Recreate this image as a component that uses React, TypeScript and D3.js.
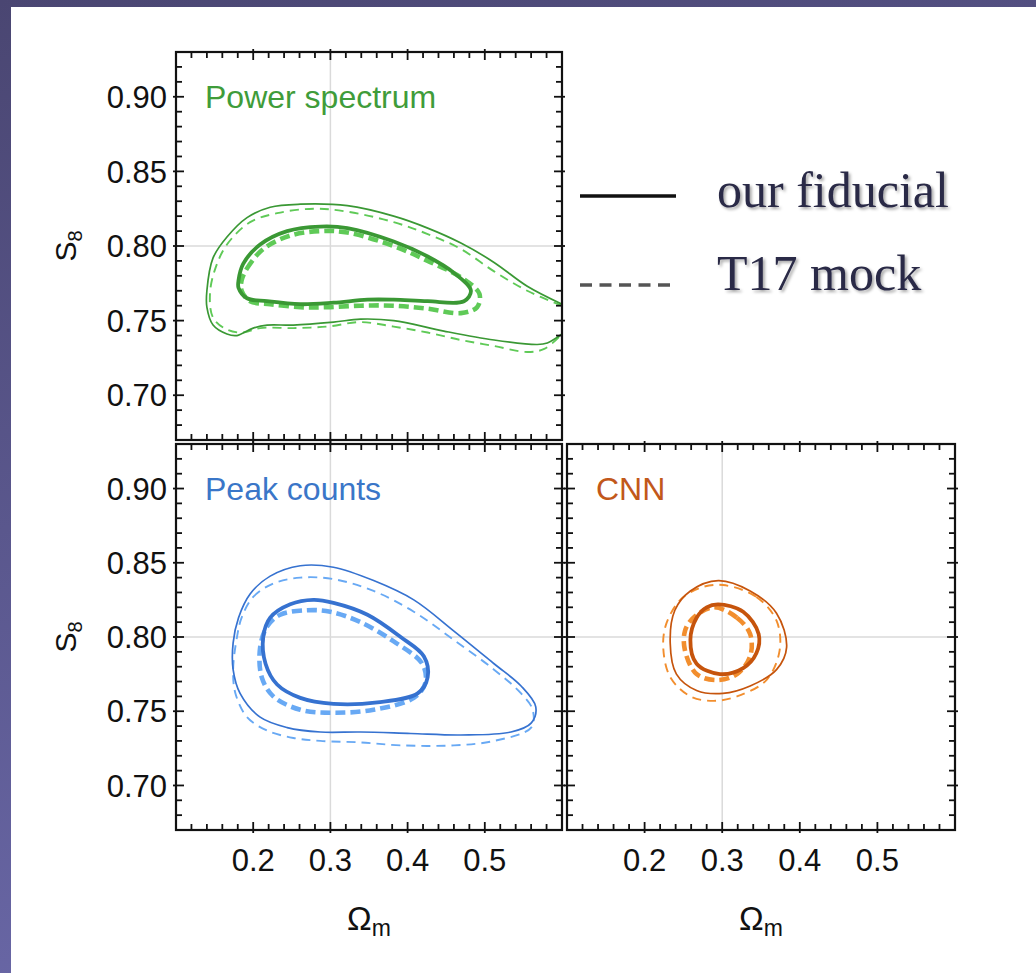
import React, { useEffect, useRef } from 'react';
import * as d3 from 'd3';

type Pt = [number, number];

// axis settings
const omegaDomain: [number, number] = [0.1, 0.6];
const s8Domain: [number, number] = [0.67, 0.93];
const xMajorTicks = [0.2, 0.3, 0.4, 0.5];
const yMajorTicks = [0.7, 0.75, 0.8, 0.85, 0.9];
const fiducial: Pt = [0.3, 0.8];

// Power spectrum contours (Omega_m, S8)
const psFiducialOuter: Pt[] = [
  [0.6, 0.761], [0.555, 0.773], [0.512, 0.789], [0.469, 0.802], [0.426, 0.812], [0.382, 0.82],
  [0.322, 0.827], [0.261, 0.828], [0.222, 0.826], [0.192, 0.819], [0.166, 0.806], [0.148, 0.792],
  [0.14, 0.77], [0.14, 0.759], [0.148, 0.747], [0.166, 0.741], [0.179, 0.74], [0.2, 0.745],
  [0.218, 0.747], [0.252, 0.747], [0.304, 0.749], [0.339, 0.751], [0.382, 0.75], [0.447, 0.743],
  [0.512, 0.737], [0.568, 0.734], [0.581, 0.735], [0.6, 0.741],
];
const psMockOuter: Pt[] = [
  [0.6, 0.76], [0.555, 0.77], [0.512, 0.783], [0.469, 0.798], [0.426, 0.808], [0.382, 0.816],
  [0.322, 0.823], [0.278, 0.825], [0.231, 0.822], [0.196, 0.816], [0.166, 0.801], [0.151, 0.785],
  [0.144, 0.768], [0.148, 0.752], [0.166, 0.744], [0.187, 0.742], [0.209, 0.745], [0.252, 0.745],
  [0.296, 0.746], [0.339, 0.749], [0.382, 0.746], [0.426, 0.742], [0.469, 0.737], [0.512, 0.733],
  [0.555, 0.729], [0.577, 0.731], [0.6, 0.741],
];
const psFiducialInner: Pt[] = [
  [0.181, 0.777], [0.187, 0.788], [0.209, 0.801], [0.244, 0.81], [0.287, 0.813], [0.322, 0.812],
  [0.382, 0.803], [0.426, 0.793], [0.46, 0.782], [0.482, 0.77], [0.473, 0.763], [0.426, 0.763],
  [0.382, 0.764], [0.348, 0.764], [0.304, 0.762], [0.261, 0.761], [0.218, 0.763], [0.192, 0.765],
  [0.181, 0.772],
];
const psMockInner: Pt[] = [
  [0.185, 0.777], [0.192, 0.785], [0.213, 0.798], [0.248, 0.807], [0.287, 0.81], [0.322, 0.809],
  [0.382, 0.8], [0.426, 0.79], [0.469, 0.779], [0.493, 0.768], [0.49, 0.759], [0.469, 0.755],
  [0.426, 0.758], [0.382, 0.76], [0.339, 0.76], [0.296, 0.759], [0.261, 0.759], [0.222, 0.761],
  [0.196, 0.763], [0.185, 0.77],
];

// Peak counts contours
const pcFiducialOuter: Pt[] = [
  [0.174, 0.796], [0.181, 0.813], [0.196, 0.829], [0.222, 0.841], [0.261, 0.848], [0.304, 0.847],
  [0.356, 0.838], [0.408, 0.825], [0.46, 0.804], [0.512, 0.782], [0.547, 0.767], [0.566, 0.753],
  [0.56, 0.742], [0.534, 0.736], [0.469, 0.734], [0.404, 0.735], [0.339, 0.736], [0.287, 0.736],
  [0.244, 0.739], [0.209, 0.746], [0.183, 0.762], [0.174, 0.778],
];
const pcMockOuter: Pt[] = [
  [0.185, 0.813], [0.2, 0.827], [0.226, 0.836], [0.261, 0.84], [0.304, 0.839], [0.356, 0.831],
  [0.408, 0.817], [0.46, 0.798], [0.512, 0.778], [0.547, 0.762], [0.562, 0.751], [0.56, 0.739],
  [0.512, 0.73], [0.46, 0.727], [0.391, 0.727], [0.339, 0.729], [0.287, 0.73], [0.252, 0.732],
  [0.218, 0.737], [0.192, 0.746], [0.177, 0.762], [0.174, 0.778], [0.179, 0.8],
];
const pcFiducialInner: Pt[] = [
  [0.213, 0.8], [0.222, 0.813], [0.248, 0.822], [0.278, 0.825], [0.304, 0.823], [0.348, 0.815],
  [0.391, 0.8], [0.421, 0.787], [0.426, 0.773], [0.413, 0.762], [0.361, 0.756], [0.304, 0.755],
  [0.261, 0.759], [0.231, 0.768], [0.216, 0.782],
];
const pcMockInner: Pt[] = [
  [0.209, 0.793], [0.218, 0.807], [0.235, 0.815], [0.27, 0.818], [0.3, 0.817], [0.339, 0.81],
  [0.382, 0.797], [0.419, 0.782], [0.423, 0.769], [0.408, 0.759], [0.356, 0.751], [0.304, 0.749],
  [0.261, 0.751], [0.226, 0.76], [0.211, 0.773],
];

// CNN contours
const cnnFiducialOuter: Pt[] = [
  [0.295, 0.838], [0.336, 0.831], [0.37, 0.816], [0.383, 0.793], [0.37, 0.778], [0.336, 0.767],
  [0.301, 0.762], [0.267, 0.764], [0.241, 0.775], [0.233, 0.796], [0.239, 0.818], [0.259, 0.831],
];
const cnnMockOuter: Pt[] = [
  [0.301, 0.835], [0.344, 0.827], [0.37, 0.811], [0.374, 0.791], [0.357, 0.771], [0.319, 0.76],
  [0.289, 0.757], [0.259, 0.76], [0.233, 0.773], [0.224, 0.793], [0.228, 0.809], [0.246, 0.825],
  [0.271, 0.833],
];
const cnnFiducialInner: Pt[] = [
  [0.295, 0.822], [0.327, 0.817], [0.347, 0.802], [0.344, 0.789], [0.327, 0.779], [0.297, 0.775],
  [0.267, 0.782], [0.259, 0.798], [0.267, 0.813], [0.28, 0.82],
];
const cnnMockInner: Pt[] = [
  [0.289, 0.82], [0.319, 0.813], [0.336, 0.802], [0.336, 0.787], [0.319, 0.775], [0.293, 0.771],
  [0.267, 0.775], [0.252, 0.791], [0.252, 0.804], [0.263, 0.813],
];

const legendLabels = ['our fiducial', 'T17 mock'];

const panels = [
  {
    key: 'ps', label: 'Power spectrum', left: 176, top: 52, width: 386, height: 388,
    text: '#3f9c3a', solid: '#3a9834', dashed: '#5fca57', yLabels: true, xLabels: false, open: true,
    contours: [psFiducialOuter, psMockOuter, psFiducialInner, psMockInner],
  },
  {
    key: 'pc', label: 'Peak counts', left: 176, top: 444, width: 386, height: 386,
    text: '#3a76c8', solid: '#3672d0', dashed: '#68a9f4', yLabels: true, xLabels: true, open: false,
    contours: [pcFiducialOuter, pcMockOuter, pcFiducialInner, pcMockInner],
  },
  {
    key: 'cnn', label: 'CNN', left: 567, top: 444, width: 388, height: 386,
    text: '#c2581a', solid: '#c6540c', dashed: '#f28e2e', yLabels: false, xLabels: true, open: false,
    contours: [cnnFiducialOuter, cnnMockOuter, cnnFiducialInner, cnnMockInner],
  },
];

const App = () => {
  const svgRef = useRef<SVGSVGElement>(null);

  useEffect(() => {
    const svg = d3.select(svgRef.current);
    svg.selectAll('*').remove();
    const defs = svg.append('defs');

    // slide background
    const grad = defs.append('linearGradient').attr('id', 'bg')
      .attr('x1', 0).attr('y1', 0).attr('x2', 0.3).attr('y2', 1);
    grad.append('stop').attr('offset', '0%').attr('stop-color', '#4a4672');
    grad.append('stop').attr('offset', '100%').attr('stop-color', '#6a68a8');
    svg.append('rect').attr('width', 1036).attr('height', 973).attr('fill', 'url(#bg)');
    svg.append('rect').attr('x', 11).attr('y', 7).attr('width', 1025).attr('height', 966).attr('fill', '#fff');

    const shadow = defs.append('filter').attr('id', 'shadow')
      .attr('x', '-10%').attr('y', '-20%').attr('width', '130%').attr('height', '150%');
    shadow.append('feDropShadow').attr('dx', 2).attr('dy', 2).attr('stdDeviation', 1.5)
      .attr('flood-color', '#000').attr('flood-opacity', 0.35);

    panels.forEach((p) => {
      const x = d3.scaleLinear().domain(omegaDomain).range([p.left, p.left + p.width]);
      const y = d3.scaleLinear().domain(s8Domain).range([p.top + p.height, p.top]);
      const g = svg.append('g');

      defs.append('clipPath').attr('id', `clip-${p.key}`)
        .append('rect').attr('x', p.left).attr('y', p.top).attr('width', p.width).attr('height', p.height);

      // fiducial cross
      g.append('line')
        .attr('x1', x(fiducial[0])).attr('x2', x(fiducial[0]))
        .attr('y1', p.top).attr('y2', p.top + p.height)
        .attr('stroke', '#dadada').attr('stroke-width', 1.5);
      g.append('line')
        .attr('x1', p.left).attr('x2', p.left + p.width)
        .attr('y1', y(fiducial[1])).attr('y2', y(fiducial[1]))
        .attr('stroke', '#dadada').attr('stroke-width', 1.5);

      // contours
      const closedLine = d3.line<Pt>().x((d) => x(d[0])).y((d) => y(d[1]))
        .curve(d3.curveCatmullRomClosed.alpha(0.5));
      const openLine = d3.line<Pt>().x((d) => x(d[0])).y((d) => y(d[1]))
        .curve(d3.curveCatmullRom.alpha(0.5));
      const [fidOuter, mockOuter, fidInner, mockInner] = p.contours;
      const cg = g.append('g').attr('clip-path', `url(#clip-${p.key})`).attr('fill', 'none');
      const outerLine = p.open ? openLine : closedLine;
      cg.append('path').attr('d', outerLine(mockOuter))
        .attr('stroke', p.dashed).attr('stroke-width', 1.9).attr('stroke-dasharray', '9 6');
      cg.append('path').attr('d', outerLine(fidOuter))
        .attr('stroke', p.solid).attr('stroke-width', 1.7);
      cg.append('path').attr('d', closedLine(mockInner))
        .attr('stroke', p.dashed).attr('stroke-width', 4.6).attr('stroke-dasharray', '10 5');
      cg.append('path').attr('d', closedLine(fidInner))
        .attr('stroke', p.solid).attr('stroke-width', 3.8);

      // ticks on all four sides
      const tg = g.append('g').attr('stroke', '#111').attr('stroke-width', 1.8);
      const xMinor = x.ticks(25).filter((t) => t > omegaDomain[0] + 1e-6 && t < omegaDomain[1] - 1e-6);
      const yMinor = y.ticks(26).filter((t) => t > s8Domain[0] + 1e-6 && t < s8Domain[1] - 1e-6);
      const isMajor = (t: number, list: number[]) => list.some((m) => Math.abs(m - t) < 1e-6);
      const bottom = p.top + p.height;
      const right = p.left + p.width;
      xMinor.forEach((t) => {
        const maj = isMajor(t, xMajorTicks);
        const inn = maj ? 8 : 6;
        const out = maj ? 3 : 0;
        tg.append('line').attr('x1', x(t)).attr('x2', x(t)).attr('y1', bottom + out).attr('y2', bottom - inn);
        tg.append('line').attr('x1', x(t)).attr('x2', x(t)).attr('y1', p.top - out).attr('y2', p.top + inn);
      });
      yMinor.forEach((t) => {
        const maj = isMajor(t, yMajorTicks);
        const inn = maj ? 8 : 6;
        const out = maj ? 3 : 0;
        tg.append('line').attr('y1', y(t)).attr('y2', y(t)).attr('x1', p.left - out).attr('x2', p.left + inn);
        tg.append('line').attr('y1', y(t)).attr('y2', y(t)).attr('x1', right + out).attr('x2', right - inn);
      });

      // frame
      g.append('rect').attr('x', p.left).attr('y', p.top).attr('width', p.width).attr('height', p.height)
        .attr('fill', 'none').attr('stroke', '#111').attr('stroke-width', 2.2);

      // tick labels
      const font = 'Liberation Sans, Arial, Helvetica, sans-serif';
      if (p.yLabels) {
        yMajorTicks.forEach((t) => {
          g.append('text').attr('x', p.left - 9).attr('y', y(t)).attr('dy', '0.36em')
            .attr('text-anchor', 'end').attr('font-family', font).attr('font-size', 31)
            .attr('fill', '#111').text(t.toFixed(2));
        });
        const sy = p.top + p.height / 2;
        const st = g.append('text').attr('transform', `translate(76,${sy}) rotate(-90)`)
          .attr('text-anchor', 'middle').attr('font-family', font).attr('font-size', 30).attr('fill', '#111');
        st.append('tspan').text('S');
        st.append('tspan').attr('font-size', 20).attr('dy', 6).text('8');
      }
      if (p.xLabels) {
        xMajorTicks.forEach((t) => {
          g.append('text').attr('x', x(t)).attr('y', bottom + 41)
            .attr('text-anchor', 'middle').attr('font-family', font).attr('font-size', 31)
            .attr('fill', '#111').text(t.toFixed(1));
        });
        const ot = g.append('text').attr('x', p.left + p.width / 2).attr('y', bottom + 100)
          .attr('text-anchor', 'middle').attr('font-family', font).attr('font-size', 33).attr('fill', '#111');
        ot.append('tspan').text('Ω');
        ot.append('tspan').attr('font-size', 23).attr('dy', 6).text('m');
      }

      // panel title
      g.append('text').attr('x', p.left + 29).attr('y', p.top + 56)
        .attr('font-family', font).attr('font-size', 32).attr('fill', p.text).text(p.label);
    });

    // legend
    const lg = svg.append('g');
    lg.append('line').attr('x1', 580).attr('x2', 676).attr('y1', 196).attr('y2', 196)
      .attr('stroke', '#111').attr('stroke-width', 3.5);
    lg.append('line').attr('x1', 580).attr('x2', 670).attr('y1', 285).attr('y2', 285)
      .attr('stroke', '#555').attr('stroke-width', 3.5).attr('stroke-dasharray', '12 7.5');
    legendLabels.forEach((l, i) => {
      lg.append('text').attr('x', 717).attr('y', i === 0 ? 207 : 290)
        .attr('font-family', 'Liberation Serif, Times New Roman, serif').attr('font-size', 50)
        .attr('fill', '#2a2a46').attr('filter', 'url(#shadow)').text(l);
    });
  }, []);

  return (
    <div style={{ position: 'absolute', left: 0, top: 0 }}>
      <svg ref={svgRef} width={1036} height={973} style={{ display: 'block' }} />
    </div>
  );
};

export default App;
